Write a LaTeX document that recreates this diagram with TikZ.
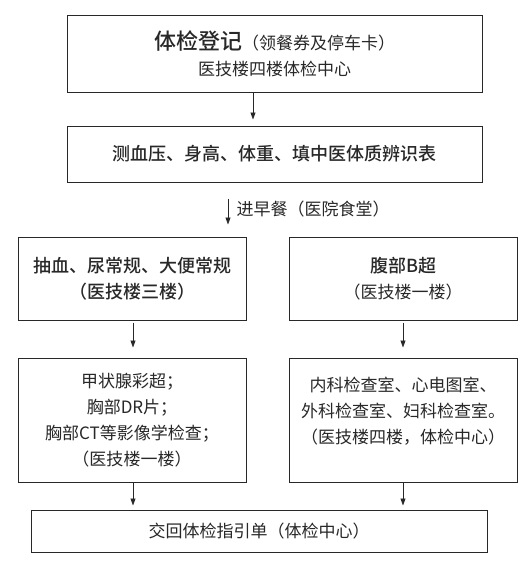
\documentclass[tikz,border=0pt]{standalone}
\usepackage{fontspec}
\setmainfont{Noto Sans CJK SC}
\newfontfamily\medfont{Noto Sans CJK SC Medium}
\usetikzlibrary{arrows.meta,positioning}
\definecolor{boxline}{RGB}{40,40,40}
\definecolor{inkgray}{RGB}{40,40,40}
\newcommand{\hdbig}[1]{{\fontsize{22}{26}\selectfont\medfont #1}}
\newcommand{\hd}[1]{{\fontsize{18}{26}\selectfont\medfont #1}}

\begin{document}
\begin{tikzpicture}[
  x=1pt, y=-1pt,
  box/.style={draw=boxline,line width=1pt,align=center,inner sep=0pt,text=inkgray,
    font=\fontsize{17}{26}\selectfont},
  arr/.style={-{Triangle[length=7pt,width=5pt]},draw=boxline,line width=0.8pt}
]
\fill[white] (0,0) rectangle (531,570);
\useasboundingbox (0,0) rectangle (531,570);

\node[box, minimum width=415pt, minimum height=77pt] (reg) at (274.5,53.5)
  {\hdbig{体检登记}（领餐券及停车卡）\\医技楼四楼体检中心};
\node[box, minimum width=415pt, minimum height=56pt, below=33pt of reg] (measure)
  {\hd{测血压、身高、体重、填中医体质辨识表}};
\node[box, minimum width=228pt, minimum height=83pt] (blood) at (132,278.5)
  {\hd{抽血、尿常规、大便常规}\\\hd{（医技楼三楼）}};
\node[box, minimum width=228pt, minimum height=83pt, right=42pt of blood] (bscan)
  {\hd{腹部B超}\\（医技楼一楼）};
\node[box, minimum width=228pt, minimum height=124pt, below=37pt of blood] (imaging)
  {甲状腺彩超；\\胸部DR片；\\胸部CT等影像学检查；\\（医技楼一楼）};
\node[box, minimum width=228pt, minimum height=124pt, below=37pt of bscan] (clinic)
  {内科检查室、心电图室、\\外科检查室、妇科检查室。\\（医技楼四楼，体检中心）\\[-7pt]\mbox{}};
\node[box, minimum width=456pt, minimum height=42pt] (handin) at (259,531)
  {交回体检指引单（体检中心）};

\draw[arr, shorten >=6pt] ([xshift=-21.5pt]reg.south) -- ([xshift=-21.5pt]measure.north);
\draw[arr, shorten <=16pt, shorten >=12pt] ([xshift=-46.5pt]measure.south)
  -- ([xshift=-46.5pt]measure.south |- blood.north)
  node[midway, right, xshift=5pt, text=inkgray, font=\fontsize{17}{26}\selectfont] {进早餐（医院食堂）};
\draw[arr, shorten <=2pt, shorten >=10pt] ([xshift=1pt]blood.south) -- ([xshift=1pt]imaging.north);
\draw[arr, shorten <=2pt, shorten >=10pt] (bscan) -- (clinic);
\draw[arr, shorten >=4pt] ([xshift=1pt]imaging.south) -- ([xshift=1pt]imaging.south |- handin.north);
\draw[arr, shorten >=4pt] (clinic.south) -- (clinic.south |- handin.north);
\end{tikzpicture}
\end{document}
